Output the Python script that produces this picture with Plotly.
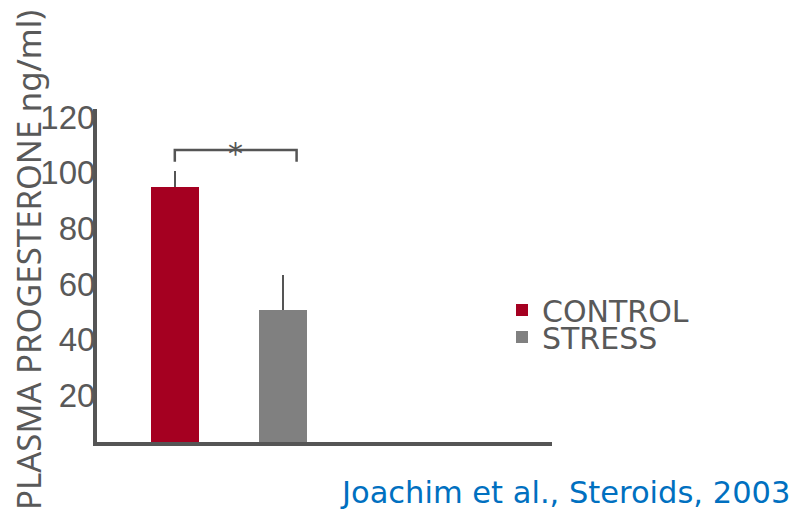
import plotly.graph_objects as go

# ---- data ----
groups = ["CONTROL", "STRESS"]
group_x = [0, 1]
means = [95.0, 50.5]
sem_up = [5.7, 12.8]
y_ticks = [20, 40, 60, 80, 100, 120]
y_title = "PLASMA PROGESTERONE ng/ml)"
source = "Joachim et al., Steroids, 2003"
sig_label = "*"
bracket_x = [0, 0, 1.13, 1.13]
bracket_y = [103.9, 108.2, 108.2, 103.9]

# ---- style ----
bar_colors = ["#A50021", "#808080"]
axis_gray = "#555555"
text_gray = "#595959"

W, H = 798, 513
ML, MR, MT, MB = 97, 246, 109, 71
PW, PH = W - ML - MR, H - MT - MB


def px_to_paper(px, py):
    return (px - ML) / PW, (H - MB - py) / PH


fig = go.Figure()
legends = ["legend", "legend2"]
for i in range(len(groups)):
    fig.add_trace(go.Bar(
        x=[group_x[i]], y=[means[i]], name=groups[i],
        marker=dict(color=bar_colors[i], line=dict(width=0)),
        width=0.444,
        error_y=dict(type="data", symmetric=False, array=[sem_up[i]], arrayminus=[0],
                     color=axis_gray, thickness=2, width=0),
        legend=legends[i],
    ))

fig.add_trace(go.Scatter(
    x=bracket_x, y=bracket_y, mode="lines",
    line=dict(color=axis_gray, width=2.5), showlegend=False, hoverinfo="skip",
))

fig.add_annotation(
    x=(bracket_x[1] + bracket_x[2]) / 2, y=bracket_y[1], text=sig_label,
    showarrow=False, font=dict(family="DejaVu Sans", size=30, color=axis_gray),
    yshift=-4,
)

tx, ty = px_to_paper(28, 260)
fig.add_annotation(
    xref="paper", yref="paper", x=tx, y=ty, text=y_title,
    textangle=-90, showarrow=False,
    font=dict(family="Noto Sans", size=33, color=text_gray),
    xanchor="center", yanchor="middle",
)

sx, sy = px_to_paper(792, 492)
fig.add_annotation(
    xref="paper", yref="paper", x=sx, y=sy, text=source,
    xanchor="right", yanchor="middle",
    showarrow=False, font=dict(family="DejaVu Sans", size=30.5, color="#0070C0"),
)

leg_font = dict(family="DejaVu Sans", size=30, color=text_gray)
fig.update_layout(
    width=W, height=H,
    margin=dict(l=ML, r=MR, t=MT, b=MB, autoexpand=False),
    paper_bgcolor="white", plot_bgcolor="white",
    bargap=0,
    legend=dict(x=502 / W, y=1 - 284 / H, xref="container", yref="container",
                xanchor="left", yanchor="top", font=leg_font, bgcolor="rgba(0,0,0,0)",
                itemwidth=30),
    legend2=dict(x=502 / W, y=1 - 311 / H, xref="container", yref="container",
                 xanchor="left", yanchor="top", font=leg_font, bgcolor="rgba(0,0,0,0)",
                 itemwidth=30),
    xaxis=dict(range=[-0.722, 3.5], showticklabels=False, ticks="", showgrid=False,
               zeroline=False, showline=True, linecolor=axis_gray, linewidth=4),
    yaxis=dict(range=[3.2, 122.9], tickvals=y_ticks, ticks="", showgrid=False,
               zeroline=False, showline=True, linecolor=axis_gray, linewidth=4,
               tickfont=dict(family="Liberation Sans", size=33, color=text_gray),
               ticklabelstandoff=-9),
)

fig.write_html("out.html")
